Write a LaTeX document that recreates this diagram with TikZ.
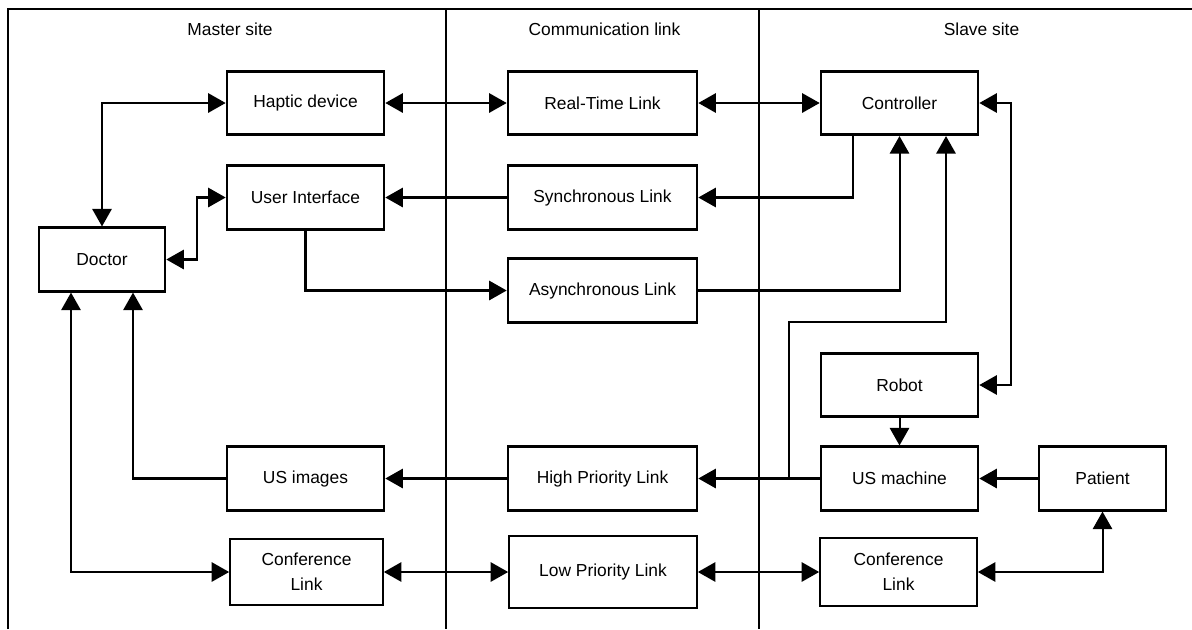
\documentclass[tikz,border=0pt]{standalone}
\usepackage{fontspec}
\setmainfont{Liberation Sans}
\usetikzlibrary{arrows.meta}

\begin{document}
\begin{tikzpicture}[
  font=\fontsize{9.9}{14.2}\selectfont,
  box/.style={draw, line width=1.5pt, inner sep=0pt, minimum width=3.14cm, minimum height=1.27cm, align=center},
  thinbox/.style={box, line width=0.95pt},
  wire/.style={line width=1.15pt, -{Triangle[length=10pt,width=11pt]}},
  bwire/.style={wire, {Triangle[length=10pt,width=11pt]}-{Triangle[length=10pt,width=11pt]}}
  ]
  \useasboundingbox (0,0) rectangle (23.84,-12.58);

  % frame and columns
  \draw[line width=1.1pt] (0.16,-12.58) -- (0.16,-0.18) -- (23.84,-0.18);
  \draw[line width=1.1pt] (8.92,-0.18) -- (8.92,-12.58);
  \draw[line width=1.1pt] (15.18,-0.18) -- (15.18,-12.58);
  \node (tmaster) at (4.6,-0.58) {Master site};
  \node (tcomm) at (12.09,-0.58) {Communication link};
  \node (tslave) at (19.63,-0.58) {Slave site};

  % master site
  \node[box] (haptic) at (6.11,-2.06) {Haptic device};
  \node[box] (ui) at (6.11,-3.95) {User Interface};
  \node[box, minimum width=2.52cm] (doctor) at (2.04,-5.19) {Doctor};
  \node[box] (usimg) at (6.11,-9.57) {US images};
  \node[thinbox, minimum width=3.06cm, minimum height=1.32cm] (confm) at (6.13,-11.44) {Conference\\Link};

  % communication link
  \node[box, minimum width=3.78cm] (rtl) at (12.05,-2.06) {Real-Time Link};
  \node[box, minimum width=3.78cm] (sync) at (12.05,-3.95) {Synchronous Link};
  \node[box, minimum width=3.78cm] (async) at (12.05,-5.81) {Asynchronous Link};
  \node[box, minimum width=3.78cm] (hpl) at (12.05,-9.57) {High Priority Link};
  \node[thinbox, minimum width=3.76cm, minimum height=1.44cm] (lpl) at (12.06,-11.44) {Low Priority Link};

  % slave site
  \node[box] (ctrl) at (17.99,-2.06) {Controller};
  \node[box] (robot) at (17.99,-7.70) {Robot};
  \node[box] (usm) at (17.99,-9.57) {US machine};
  \node[box, minimum width=2.54cm] (patient) at (22.05,-9.57) {Patient};
  \node[thinbox, minimum height=1.36cm] (confs) at (17.97,-11.44) {Conference\\Link};

  \coordinate (tap) at ([xshift=-0.62cm]usm.west);

  % connections
  \draw[bwire] (doctor) |- (haptic);
  \draw[bwire] (doctor.east) -- ++(0.62,0) |- (ui.west);
  \draw[bwire] (haptic) -- (rtl);
  \draw[bwire] (rtl) -- (ctrl);
  \draw[wire] ([xshift=-0.93cm]ctrl.south) |- (sync.east);
  \draw[wire] (sync) -- (ui);
  \draw[wire] (ui) |- (async);
  \draw[wire] (async) -| (ctrl);
  \draw[bwire] (ctrl.east) -- ++(0.64,0) |- (robot.east);
  \draw[wire] (robot) -- (usm);
  \draw[wire] (patient) -- (usm);
  \draw[wire] (usm) -- (hpl);
  \draw[wire] (tap) -- ++(0,3.13) -| ([xshift=0.93cm]ctrl.south);
  \draw[wire] (hpl) -- (usimg);
  \draw[wire] (usimg) -| ([xshift=0.62cm]doctor.south);
  \draw[bwire] ([xshift=-0.62cm]doctor.south) |- (confm);
  \draw[bwire] (confm) -- (lpl);
  \draw[bwire] (lpl) -- (confs);
  \draw[bwire] (confs) -| (patient);
\end{tikzpicture}
\end{document}
